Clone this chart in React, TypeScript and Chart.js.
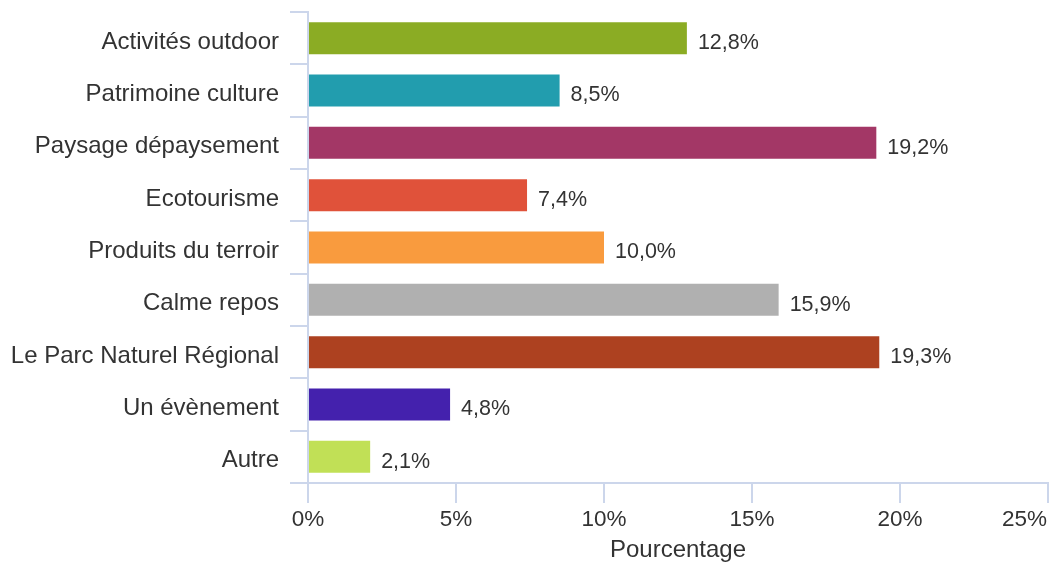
import React, { useEffect, useRef } from "react";
import { Chart, registerables } from "chart.js";

Chart.register(...registerables);

const categories = [
  "Activités outdoor",
  "Patrimoine culture",
  "Paysage dépaysement",
  "Ecotourisme",
  "Produits du terroir",
  "Calme repos",
  "Le Parc Naturel Régional",
  "Un évènement",
  "Autre",
];
const values = [12.8, 8.5, 19.2, 7.4, 10.0, 15.9, 19.3, 4.8, 2.1];
const barColors = [
  "#8bac24",
  "#229dae",
  "#a33766",
  "#e0523a",
  "#f99b3e",
  "#b0b0b0",
  "#ad4120",
  "#4421ad",
  "#c1e056",
];
const xTickMin = 0;
const xTickMax = 25;
const xTickStep = 5;
const axisTitle = "Pourcentage";

const FONT = '"Liberation Sans", Arial, sans-serif';
const AXIS_COLOR = "#ccd6eb";
const TEXT_COLOR = "#333333";
const TICK_FONT_SIZE = 22.5;

const fmtTick = (v: number) => `${v}%`;

const valueLabels = {
  id: "valueLabels",
  afterDatasetsDraw(chart: any) {
    const ctx = chart.ctx;
    const meta = chart.getDatasetMeta(0);
    ctx.save();
    ctx.font = `21.5px ${FONT}`;
    ctx.fillStyle = TEXT_COLOR;
    ctx.textAlign = "left";
    ctx.textBaseline = "middle";
    meta.data.forEach((bar: any, i: number) => {
      const v = values[i];
      const txt = v.toFixed(1).replace(".", ",") + "%";
      ctx.fillText(txt, bar.x + 11, bar.y + 5);
    });
    ctx.restore();
  },
};

// Last x tick label is shifted inside the canvas (as in the reference)
const lastTickLabel = {
  id: "lastTickLabel",
  afterDraw(chart: any) {
    const scale = chart.scales.x;
    const ctx = chart.ctx;
    let y = scale.top + 20 + 3 + (TICK_FONT_SIZE * 1.2) / 2;
    const items = scale._labelItems;
    if (items && items.length) {
      const it = items[0];
      if (it && it.options && typeof it.options.translation?.[1] === "number") {
        y = it.options.translation[1];
        ctx.save();
        ctx.font = `${TICK_FONT_SIZE}px ${FONT}`;
        ctx.fillStyle = TEXT_COLOR;
        ctx.textAlign = "right";
        ctx.textBaseline = it.options.textBaseline || "middle";
        const off = it.textOffset || 0;
        ctx.fillText(fmtTick(xTickMax), chart.chartArea.right - 1, y + off);
        ctx.restore();
        return;
      }
    }
    ctx.save();
    ctx.font = `${TICK_FONT_SIZE}px ${FONT}`;
    ctx.fillStyle = TEXT_COLOR;
    ctx.textAlign = "right";
    ctx.textBaseline = "middle";
    ctx.fillText(fmtTick(xTickMax), chart.chartArea.right - 1, y);
    ctx.restore();
  },
};

export default function App() {
  const ref = useRef<HTMLCanvasElement | null>(null);
  useEffect(() => {
    if (!ref.current) return;
    const chart = new Chart(ref.current, {
      type: "bar",
      data: {
        labels: categories,
        datasets: [
          {
            data: values,
            backgroundColor: barColors,
            borderWidth: 0,
            categoryPercentage: 1,
            barPercentage: 0.612,
          },
        ],
      },
      options: {
        indexAxis: "y",
        responsive: false,
        animation: false,
        layout: { padding: { top: 12, right: 3, left: 0, bottom: 0 } },
        plugins: {
          legend: { display: false },
          tooltip: { enabled: false },
        },
        scales: {
          y: {
            type: "category",
            offset: true,
            grid: {
              offset: true,
              drawOnChartArea: false,
              drawTicks: true,
              tickLength: 18,
              color: AXIS_COLOR,
              lineWidth: 2,
            },
            border: { display: true, color: AXIS_COLOR, width: 2 },
            ticks: {
              color: TEXT_COLOR,
              font: { family: FONT, size: 24 },
              padding: 11,
              labelOffset: 4,
            },
            afterFit(scale: any) {
              scale.width = 308;
              scale.paddingTop = 0;
              scale.paddingBottom = 0;
            },
          },
          x: {
            type: "linear",
            min: xTickMin,
            max: xTickMax,
            grid: {
              drawOnChartArea: false,
              drawTicks: true,
              tickLength: 20,
              color: AXIS_COLOR,
              lineWidth: 2,
            },
            border: { display: true, color: AXIS_COLOR, width: 2 },
            ticks: {
              stepSize: xTickStep,
              color: TEXT_COLOR,
              font: { family: FONT, size: TICK_FONT_SIZE },
              padding: 3,
              maxRotation: 0,
              callback: (v: any) => (v === xTickMax ? "" : fmtTick(v)),
            },
            title: {
              display: true,
              text: axisTitle,
              color: TEXT_COLOR,
              font: { family: FONT, size: 24, lineHeight: 1 },
              padding: { top: 0, bottom: 0 },
            },
            afterFit(scale: any) {
              scale.height = 79;
              scale.paddingLeft = 0;
              scale.paddingRight = 0;
            },
          },
        },
      },
      plugins: [valueLabels, lastTickLabel],
    });
    return () => chart.destroy();
  }, []);
  return (
    <div style={{ position: "fixed", left: 0, top: 0, width: 1051, height: 562, background: "#fff" }}>
      <canvas ref={ref} width={1051} height={562} style={{ display: "block" }} />
    </div>
  );
}
